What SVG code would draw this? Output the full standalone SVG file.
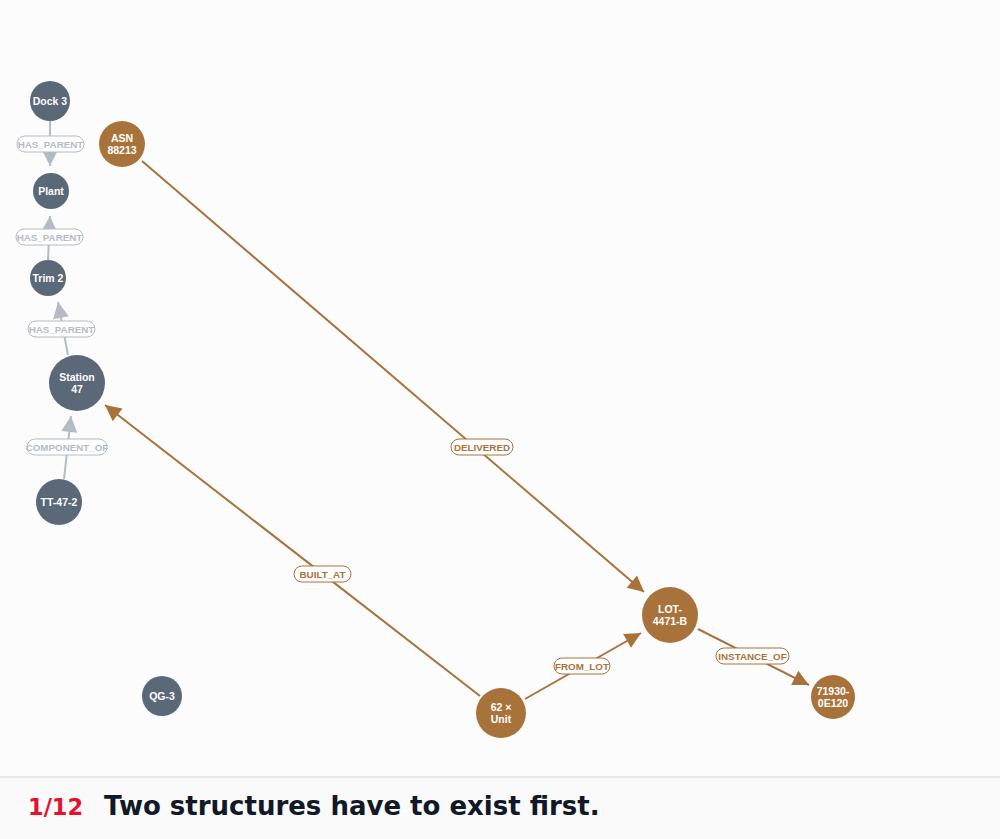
<svg xmlns="http://www.w3.org/2000/svg" width="1000" height="839" viewBox="0 0 1000 839">
<style>
.bg{fill:#fcfcfc}
.ng circle{fill:#5b6878}
.nb circle{fill:#a8733b}
.nt{font-family:"Liberation Sans",Arial,sans-serif;font-weight:bold;font-size:10.5px;fill:#ffffff;text-anchor:middle}
.eb{stroke:#a8733b;stroke-width:2;fill:none}
.eg{stroke:#b3bcc6;stroke-width:2;fill:none}
.lb rect{fill:#ffffff;stroke:#a8733b;stroke-width:1}
.lb text{font-family:"Liberation Sans",Arial,sans-serif;font-weight:bold;font-size:9.8px;fill:#a8733b;text-anchor:middle}
.lg rect{fill:#ffffff;stroke:#b3bcc6;stroke-width:1}
.lg text{font-family:"Liberation Sans",Arial,sans-serif;font-weight:bold;font-size:9.8px;fill:#b3bcc6;text-anchor:middle}
</style>
<defs>
<marker id="ab" markerUnits="userSpaceOnUse" markerWidth="20" markerHeight="20" viewBox="0 0 20 20" refX="18" refY="10" orient="auto"><path d="M2,2 L18,10 L2,18 Z" fill="#a8733b"/></marker>
<marker id="ag" markerUnits="userSpaceOnUse" markerWidth="20" markerHeight="20" viewBox="0 0 20 20" refX="18" refY="10" orient="auto"><path d="M2,2 L18,10 L2,18 Z" fill="#b3bcc6"/></marker>
</defs>
<rect class="bg" x="0" y="0" width="1000" height="839"/>
<g id="connectors">
<path class="eg" d="M50,121 L50,166" marker-end="url(#ag)"/>
<path class="eg" d="M48,260 L50,216" marker-end="url(#ag)"/>
<path class="eg" d="M68,355 L58,302" marker-end="url(#ag)"/>
<path class="eg" d="M64,479 L71,416" marker-end="url(#ag)"/>
<path class="eb" d="M142,161 L644,592" marker-end="url(#ab)"/>
<path class="eb" d="M480,696 L105,405" marker-end="url(#ab)"/>
<path class="eb" d="M525,699 L641,633" marker-end="url(#ab)"/>
<path class="eb" d="M698,629 L809,685" marker-end="url(#ab)"/>
<g class="lg"><rect x="17" y="136" width="67" height="16" rx="8"/><text x="50.5" y="148">HAS_PARENT</text></g>
<g class="lg"><rect x="16" y="229" width="67" height="16" rx="8"/><text x="49.5" y="241">HAS_PARENT</text></g>
<g class="lg"><rect x="28" y="321" width="67" height="16" rx="8"/><text x="61.5" y="333">HAS_PARENT</text></g>
<g class="lg"><rect x="27" y="439" width="80" height="16" rx="8"/><text x="67" y="451">COMPONENT_OF</text></g>
<g class="lb"><rect x="451" y="439" width="62" height="16" rx="8"/><text x="482" y="451">DELIVERED</text></g>
<g class="lb"><rect x="294" y="566" width="57" height="16" rx="8"/><text x="322.5" y="578">BUILT_AT</text></g>
<g class="lb"><rect x="554" y="658" width="56" height="16" rx="8"/><text x="582" y="670">FROM_LOT</text></g>
<g class="lb"><rect x="716" y="648" width="73" height="16" rx="8"/><text x="752.5" y="660">INSTANCE_OF</text></g>
</g>
<g id="n-dock3" class="ng"><circle cx="50" cy="101" r="20"/><text class="nt" x="50" y="105">Dock 3</text></g>
<g id="n-plant" class="ng"><circle cx="51" cy="191" r="18"/><text class="nt" x="51" y="195">Plant</text></g>
<g id="n-trim2" class="ng"><circle cx="48" cy="278" r="18"/><text class="nt" x="48" y="282">Trim 2</text></g>
<g id="n-station47" class="ng"><circle cx="77" cy="383" r="28"/><text class="nt" x="77" y="381">Station</text><text class="nt" x="77" y="393">47</text></g>
<g id="n-tt472" class="ng"><circle cx="59" cy="502" r="23"/><text class="nt" x="59" y="506">TT-47-2</text></g>
<g id="n-qg3" class="ng"><circle cx="162" cy="696" r="20"/><text class="nt" x="162" y="700">QG-3</text></g>
<g id="n-asn" class="nb"><circle cx="122" cy="144" r="23"/><text class="nt" x="122" y="142">ASN</text><text class="nt" x="122" y="154">88213</text></g>
<g id="n-unit" class="nb"><circle cx="501" cy="713" r="25"/><text class="nt" x="501" y="711">62 ×</text><text class="nt" x="501" y="723">Unit</text></g>
<g id="n-lot" class="nb"><circle cx="670" cy="615" r="28"/><text class="nt" x="670" y="613">LOT-</text><text class="nt" x="670" y="625">4471-B</text></g>
<g id="n-part" class="nb"><circle cx="833" cy="697" r="22"/><text class="nt" x="833" y="695">71930-</text><text class="nt" x="833" y="707">0E120</text></g>
<g id="footer">
<rect x="0" y="777" width="1000" height="62" fill="#fafafa"/>
<line x1="0" y1="777" x2="1000" y2="777" stroke="#e2e6ea" stroke-width="1.5"/>
<text x="28" y="815" font-family="DejaVu Sans,sans-serif" font-weight="bold" font-size="22.5" fill="#e8112d">1/12</text>
<text x="104" y="815" font-family="DejaVu Sans,sans-serif" font-weight="bold" font-size="26" fill="#111827">Two structures have to exist first.</text>
</g>
</svg>
